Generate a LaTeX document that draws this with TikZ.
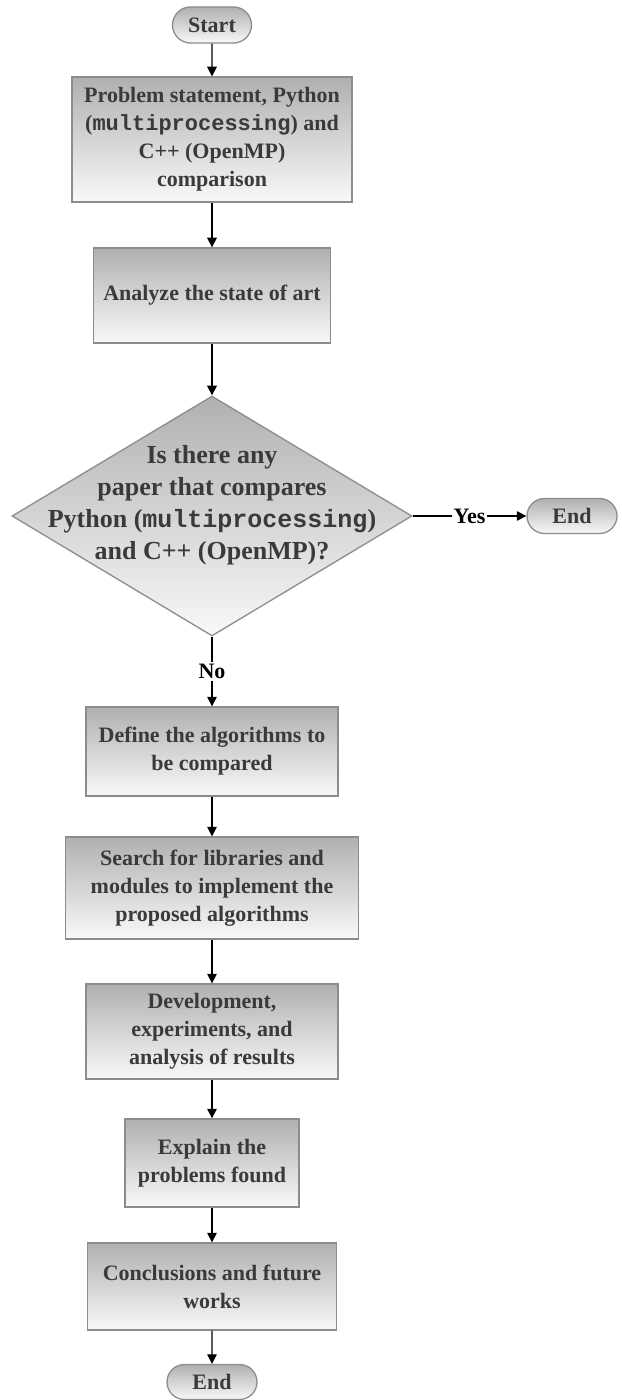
\documentclass[tikz,border=0pt]{standalone}
\usepackage{fontspec}
\setmainfont{Liberation Serif}
\setmonofont{Liberation Mono}
\usetikzlibrary{positioning,arrows.meta,shapes.geometric,shapes.misc}
\definecolor{cEdge}{HTML}{8C8C8C}
\definecolor{cText}{HTML}{3A3A3A}
\tikzset{
  base/.style={draw=cEdge,line width=0.65pt,top color=gray!62,bottom color=gray!5,align=center,
    text=cText,font=\fontsize{11}{14}\selectfont\bfseries,inner sep=2pt},
  proc/.style={base,rectangle}, term/.style={base,rounded rectangle},
  decision/.style={base,diamond,inner sep=0pt,minimum width=200pt,minimum height=120pt},
  dectext/.style={align=center,text=cText,font=\fontsize{13}{16}\selectfont\bfseries},
  arr/.style={-{Triangle[length=4.8pt,width=4.8pt]},line width=0.65pt},
  lbl/.style={font=\fontsize{11}{13}\selectfont\bfseries,fill=white,inner sep=1pt}}

\begin{document}
\begin{tikzpicture}[x=0.5pt,y=-0.5pt]
\useasboundingbox (0,0) rectangle (621,1400);
\node[term,minimum width=43.5pt,minimum height=18pt] (start) at (212,25) {Start};
\node[proc,minimum width=140pt,minimum height=62.5pt] (b1) at (212,139.5)
  {Problem statement, Python\\(\texttt{multiprocessing}) and\\C++ (OpenMP)\\comparison};
\node[proc,minimum width=118.5pt,minimum height=47.5pt] (b2) at (212,295.5) {Analyze the state of art};
\node[decision] (dec) at (212,516) {};
\node[dectext] (dectxt) at (212,505) {Is there any\\paper that compares\\Python (\texttt{\fontsize{12.5}{16}\selectfont multiprocessing})\\and C++ (OpenMP)?};
\node[term,minimum width=49pt,minimum height=17.5pt] (endr) at (572,516) {End};
\node[proc,minimum width=126pt,minimum height=44.5pt] (b3) at (212,751.5)
  {Define the algorithms to\\be compared};
\node[proc,minimum width=146.5pt,minimum height=51pt] (b4) at (212,888)
  {Search for libraries and\\modules to implement the\\proposed algorithms};
\node[proc,minimum width=126pt,minimum height=47.5pt] (b5) at (212,1031.5)
  {Development,\\experiments, and\\analysis of results};
\node[proc,minimum width=87pt,minimum height=44pt] (b6) at (212,1163)
  {Explain the\\problems found};
\node[proc,minimum width=124.5pt,minimum height=43.5pt] (b7) at (212,1286.5)
  {Conclusions and future\\works};
\node[term,minimum width=49pt,minimum height=17.5pt] (endb) at (212,1382) {End};
\foreach \a/\b in {start/b1, b1/b2, b2/dec, b3/b4, b4/b5, b5/b6, b6/b7, b7/endb}
  \draw[arr] (\a) -- (\b);
\draw[arr] (dec.east) -- node[lbl] {Yes} (endr.west);
\draw[arr] (dec.south) -- node[lbl] {No} (b3.north);
\end{tikzpicture}
\end{document}
